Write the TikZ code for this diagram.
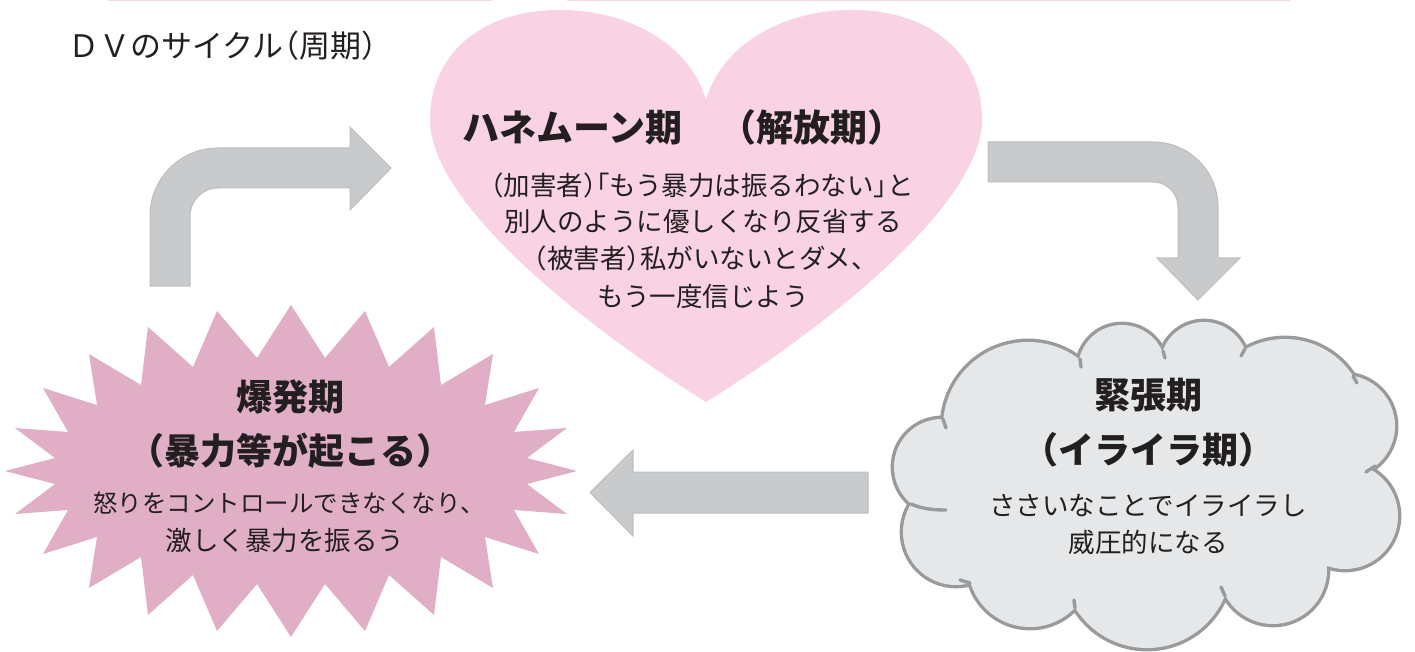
\documentclass[tikz,border=0pt]{standalone}
\usepackage{fontspec}
\newfontfamily\jp{Noto Sans CJK JP}
\definecolor{heartfill}{HTML}{F9D3E4}
\definecolor{starfill}{HTML}{E0AFC6}
\definecolor{cloudfill}{HTML}{E6E7E8}
\definecolor{cloudline}{HTML}{999A9C}
\definecolor{arrowfill}{HTML}{C9CACC}
\definecolor{arrowline}{HTML}{BDBEC0}
\definecolor{txt}{HTML}{231F20}
\definecolor{topline}{HTML}{FAD5E5}
\newcommand{\jpo}[1]{\kern-.5em#1}
\newcommand{\jpc}[1]{#1\kern-.5em}
\begin{document}
\begin{tikzpicture}[x=1pt,y=-1pt,
  blockarrow/.style={fill=arrowfill, draw=arrowline, line width=1pt, line join=miter},
  lbl/.style={inner sep=0pt, anchor=base, text=txt},
  ttl/.style={lbl, font=\jp\bfseries\fontsize{36}{36}\selectfont},
  body/.style={lbl, font=\jp\fontsize{26.5}{26.5}\selectfont},
  cloudedge/.style={draw=cloudline, line width=3.4pt, line cap=round}
]
\useasboundingbox (0,0) rectangle (1415,652);
\fill[white] (0,0) rectangle (1415,652);

% top pink lines
\fill[topline] (108,0) rectangle (492,1.5);
\fill[topline] (567,0) rectangle (1290,1.5);

% arrows
\draw[blockarrow] (150,286) -- (150,216) arc (180:270:68) -- (350,148) -- (350,127)
  -- (391,168) -- (350,210) -- (350,188) -- (218,188) arc (270:180:28) -- (190,286) -- cycle;
\draw[blockarrow] (988,142) -- (1153,142) arc (-90:0:65) -- (1218,258) -- (1240,258)
  -- (1198,300) -- (1157,258) -- (1178,258) -- (1178,207) arc (0:-90:25) -- (988,182) -- cycle;
\draw[blockarrow] (868,472) -- (633,472) -- (633,450) -- (590,492.5) -- (633,536)
  -- (633,513) -- (868,513) -- cycle;

% heart
\fill[heartfill] (706,100) .. controls (690,45) and (630,10) .. (560,10)
  .. controls (480,10) and (430,55) .. (430,120)
  .. controls (430,205) and (590,330) .. (706,402)
  .. controls (822,330) and (982,205) .. (982,120)
  .. controls (982,55) and (932,10) .. (852,10)
  .. controls (782,10) and (722,45) .. (706,100) -- cycle;

% star
\begin{scope}[shift={(291,471)}]
\fill[starfill] (0,-166) -- (-34,-113) -- (-74,-160) -- (-98,-104) -- (-143,-144) -- (-150,-86)
 -- (-202,-117) -- (-194,-66) -- (-248,-83) -- (-223,-39) -- (-276,-43) -- (-236,-13) -- (-286,0)
 -- (-236,13) -- (-276,43) -- (-223,39) -- (-248,83) -- (-194,66) -- (-202,117) -- (-150,86)
 -- (-143,144) -- (-98,104) -- (-74,160) -- (-34,113) -- (0,166)
 -- (34,113) -- (74,160) -- (98,104) -- (143,144) -- (150,86) -- (202,117) -- (194,66)
 -- (248,83) -- (223,39) -- (276,43) -- (236,13) -- (286,0)
 -- (236,-13) -- (276,-43) -- (223,-39) -- (248,-83) -- (194,-66) -- (202,-117) -- (150,-86)
 -- (143,-144) -- (98,-104) -- (74,-160) -- (34,-113) -- cycle;
\end{scope}

% cloud
\foreach \cx/\cy/\r in {942/467/48, 956/532/53, 1030/565/62, 1147/564/84, 1273/570/54,
  1345/516/53, 1344/426/51, 1285/420/81, 1204/366/44, 1122/369/44, 1028/427/85}
  {\draw[draw=cloudline, line width=6.8pt] (\cx,\cy) circle[radius=\r];}
\foreach \cx/\cy/\r in {942/467/48, 956/532/53, 1030/565/62, 1147/564/84, 1273/570/54,
  1345/516/53, 1344/426/51, 1285/420/81, 1204/366/44, 1122/369/44, 1028/427/85}
  {\fill[cloudfill] (\cx,\cy) circle[radius=\r];}
\fill[cloudfill] (1145,470) ellipse[x radius=200, y radius=110];
% inner arc tails
\draw[cloudedge] (943,419) -- (946,428);
\draw[cloudedge] (1080,359) -- (1081,367);
\draw[cloudedge] (1163,351) -- (1165,358);
\draw[cloudedge] (1245,349) -- (1241,356);
\draw[cloudedge] (1353,376) -- (1357,383);
\draw[cloudedge] (1375,466) -- (1366,472);
\draw[cloudedge] (1225,596) -- (1221,587);
\draw[cloudedge] (1075,608) -- (1074,600);
\draw[cloudedge] (970,583) -- (960,580);
\draw[cloudedge] (911,504) .. controls (922,509) and (934,510) .. (946,510);

% texts
\node[lbl, anchor=base west, font=\jp\fontsize{31}{31}\selectfont] (title) at (68,57.5)
  {ＤＶのサイクル\jpo{（}周期\jpc{）}};

\node[ttl, anchor=base west, font=\jp\bfseries\fontsize{37}{37}\selectfont] (hT) at (462,141.5)
  {ハネムーン期　（解放期）};
\node[body] (h1) at (702,195.6) {\jpo{（}加害者\jpc{）}\jpo{「}もう暴力は振るわない\jpc{」}と};
\node[body] (h2) at (703,231.6) {別人のように優しくなり反省する};
\node[body] (h3) at (706,268.6) {\jpo{（}被害者\jpc{）}私がいないとダメ、};
\node[body] (h4) at (703,306.6) {もう一度信じよう};

\node[ttl] (sT1) at (290,410.3) {爆発期};
\node[ttl] (sT2) at (290,464.3) {\jpo{（}暴力等が起こる\jpc{）}};
\node[body, font=\jp\fontsize{24.5}{24.5}\selectfont] (s1) at (289,512.2) {怒りをコントロールできなくなり、};
\node[body] (s2) at (285,550.6) {激しく暴力を振るう};

\node[ttl] (cT1) at (1148,408.3) {緊張期};
\node[ttl] (cT2) at (1148,463.3) {\jpo{（}イライラ期\jpc{）}};
\node[body] (c1) at (1148,515.6) {ささいなことでイライラし};
\node[body] (c2) at (1148,552.6) {威圧的になる};
\end{tikzpicture}
\end{document}
